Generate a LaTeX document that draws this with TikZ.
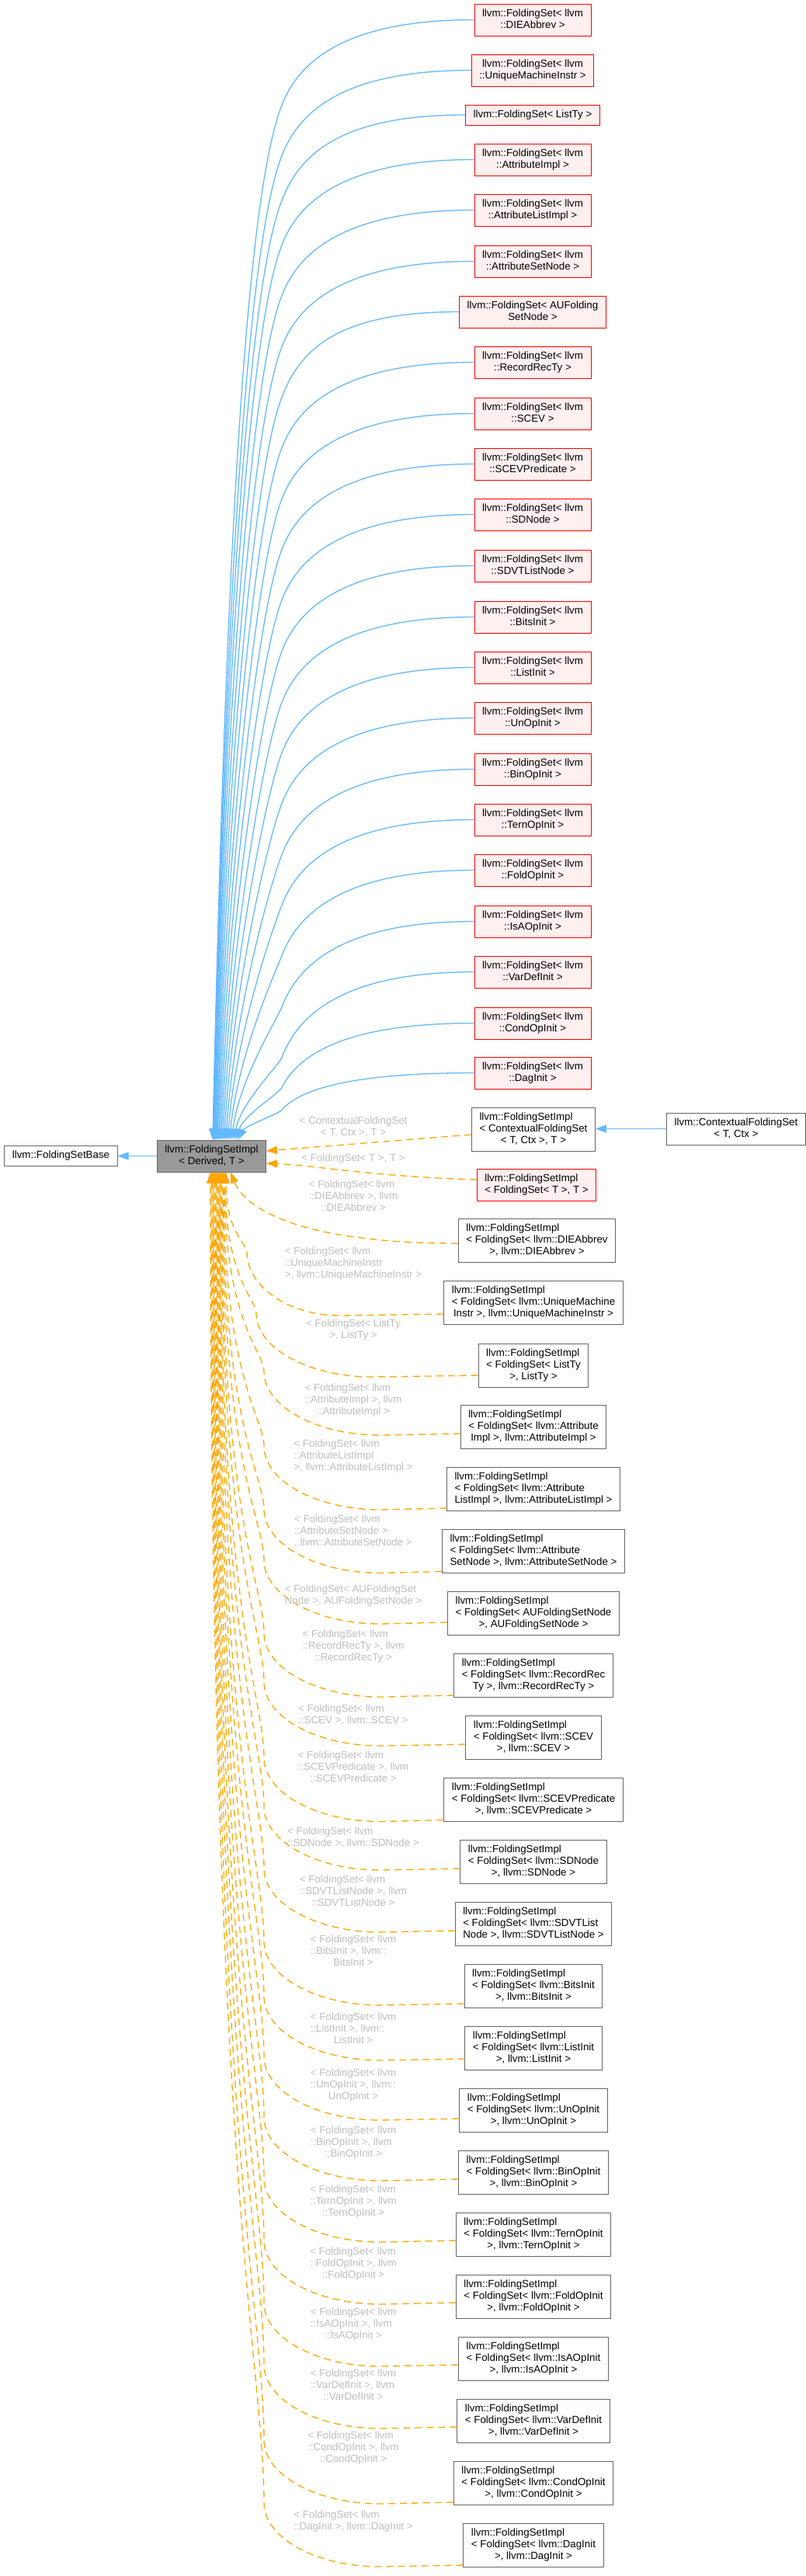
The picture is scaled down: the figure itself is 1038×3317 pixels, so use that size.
\documentclass[tikz,border=0pt]{standalone}
\usepackage{fontspec}
\setmainfont{Liberation Sans}
\usetikzlibrary{arrows.meta,calc}
\definecolor{edgeblue}{HTML}{63B8FF}
\definecolor{tmplorange}{HTML}{FFA500}
\definecolor{lblgray}{HTML}{BEBEBE}
\definecolor{boxpink}{HTML}{FFF0F0}
\definecolor{boxgray}{HTML}{666666}
\definecolor{basegray}{HTML}{999999}
\newcommand{\ctr}[1]{\begin{tabular}{@{}c@{}}#1\end{tabular}}
\newcommand{\lft}[2]{\begin{tabular}{@{}l@{}}#1\\\multicolumn{1}{@{}c@{}}{#2}\end{tabular}}
\tikzset{
  dox/.style={font=\fontsize{13.33}{15}\selectfont, inner xsep=10pt, inner ysep=5.5pt, line width=1pt},
  redbox/.style={dox, draw=red, fill=boxpink},
  implbox/.style={dox, draw=boxgray, fill=white},
  central/.style={dox, draw=boxgray, fill=basegray},
  inherit/.style={draw=edgeblue, line width=1.3pt, -{Triangle[length=14pt,width=10pt]}},
  tmpl/.style={draw=tmplorange, line width=1.3pt, dash pattern=on 9pt off 6pt, -{Triangle[length=14pt,width=10pt]}},
  elbl/.style={font=\fontsize{13.33}{15}\selectfont, text=lblgray, inner sep=0pt}
}
\begin{document}
\begin{tikzpicture}[x=1pt,y=-1pt]
\useasboundingbox (0,0) rectangle (1038,3317);
\node[central] (impl) at (272.5,1488.5) {\ctr{llvm::FoldingSetImpl\\< Derived, T >}};
\node[implbox] (fsbase) at (78.5,1488.5) {\ctr{llvm::FoldingSetBase}};
\draw[inherit] (impl.west) -- (fsbase.east);
% FoldingSet< ... > column
\foreach \n/\yc/\txt [count=\idx from 0] in {
  fsDIE/25.5/{llvm::FoldingSet< llvm\\::DIEAbbrev >},
  fsUMI/90.5/{llvm::FoldingSet< llvm\\::UniqueMachineInstr >},
  fsListTy/148/{llvm::FoldingSet< ListTy >},
  fsAttrImpl/205.5/{llvm::FoldingSet< llvm\\::AttributeImpl >},
  fsAttrList/270.5/{llvm::FoldingSet< llvm\\::AttributeListImpl >},
  fsAttrSet/336.5/{llvm::FoldingSet< llvm\\::AttributeSetNode >},
  fsAUFold/401.5/{llvm::FoldingSet< AUFolding\\SetNode >},
  fsRecord/466.5/{llvm::FoldingSet< llvm\\::RecordRecTy >},
  fsSCEV/532.5/{llvm::FoldingSet< llvm\\::SCEV >},
  fsSCEVPred/597.5/{llvm::FoldingSet< llvm\\::SCEVPredicate >},
  fsSDNode/662.5/{llvm::FoldingSet< llvm\\::SDNode >},
  fsSDVT/728.5/{llvm::FoldingSet< llvm\\::SDVTListNode >},
  fsBits/794.5/{llvm::FoldingSet< llvm\\::BitsInit >},
  fsListInit/859.5/{llvm::FoldingSet< llvm\\::ListInit >},
  fsUnOp/924.5/{llvm::FoldingSet< llvm\\::UnOpInit >},
  fsBinOp/990.5/{llvm::FoldingSet< llvm\\::BinOpInit >},
  fsTern/1055.5/{llvm::FoldingSet< llvm\\::TernOpInit >},
  fsFold/1120.5/{llvm::FoldingSet< llvm\\::FoldOpInit >},
  fsIsA/1186.5/{llvm::FoldingSet< llvm\\::IsAOpInit >},
  fsVarDef/1251.5/{llvm::FoldingSet< llvm\\::VarDefInit >},
  fsCond/1317.5/{llvm::FoldingSet< llvm\\::CondOpInit >},
  fsDag/1381.5/{llvm::FoldingSet< llvm\\::DagInit >}}{
  \node[redbox] (\n) at (686,\yc) {\ctr{\txt}};
  \pgfmathsetmacro\hb{min(110,0.55*(1468-\yc))}
  \pgfmathsetmacro\by{\yc+\hb}
  \pgfmathsetmacro\rest{1468-\by}
  \pgfmathsetmacro\xt{274+0.075*\idx*\idx}
  \draw[inherit] (\n.west) .. controls +(-150,0) and +(25,-0.6*\hb) .. (363,\by)
    .. controls +(-0.04*\rest,0.1*\rest) and +(0.15*363-0.15*\xt,-0.45*\rest) .. (impl.north -| \xt,0);
}
% contextual set
\node[implbox] (fsiCtx) at (687,1454) {\lft{llvm::FoldingSetImpl\\< ContextualFoldingSet}{< T, Ctx >, T >}};
\node[implbox] (cfs) at (948,1453.5) {\ctr{llvm::ContextualFoldingSet\\< T, Ctx >}};
\draw[inherit] (cfs.west) -- (fsiCtx.east |- cfs.west);
\draw[tmpl] (fsiCtx.west |- 0,1461) -- (impl.east |- 0,1482);
\node[redbox] (fsiT) at (691,1525.5) {\lft{llvm::FoldingSetImpl}{< FoldingSet< T >, T >}};
\draw[tmpl] (fsiT.west |- 0,1519) .. controls (480,1515) and (400,1500) .. (impl.east |- 0,1498);
\node[implbox] (fsiDIE) at (691.5,1597.5) {\lft{llvm::FoldingSetImpl\\< FoldingSet< llvm::DIEAbbrev}{>, llvm::DIEAbbrev >}};
\draw[tmpl] (fsiDIE.west |- 0,1601) .. controls (383,1601) and (315,1555) .. (impl.south -| 297,0);
% FoldingSetImpl< FoldingSet< ... > > column
\foreach \n/\yc/\off/\la/\lb [count=\idx] in {
  fsiUMI/1677.5/14.5/{llvm::FoldingSetImpl\\< FoldingSet< llvm::UniqueMachine}/{Instr >, llvm::UniqueMachineInstr >},
  fsiListTy/1758/13/{llvm::FoldingSetImpl\\< FoldingSet< ListTy}/{>, ListTy >},
  fsiAttrImpl/1837.5/8.5/{llvm::FoldingSetImpl\\< FoldingSet< llvm::Attribute}/{Impl >, llvm::AttributeImpl >},
  fsiAttrList/1917.5/24.5/{llvm::FoldingSetImpl\\< FoldingSet< llvm::Attribute}/{ListImpl >, llvm::AttributeListImpl >},
  fsiAttrSet/1997.5/26/{llvm::FoldingSetImpl\\< FoldingSet< llvm::Attribute}/{SetNode >, llvm::AttributeSetNode >},
  fsiAUFold/2077.5/11.5/{llvm::FoldingSetImpl\\< FoldingSet< AUFoldingSetNode}/{>, AUFoldingSetNode >},
  fsiRecord/2157.5/25.5/{llvm::FoldingSetImpl\\< FoldingSet< llvm::RecordRec}/{Ty >, llvm::RecordRecTy >},
  fsiSCEV/2237.5/8.5/{llvm::FoldingSetImpl\\< FoldingSet< llvm::SCEV}/{>, llvm::SCEV >},
  fsiSCEVPred/2317.5/26/{llvm::FoldingSetImpl\\< FoldingSet< llvm::SCEVPredicate}/{>, llvm::SCEVPredicate >},
  fsiSDNode/2397.5/8.5/{llvm::FoldingSetImpl\\< FoldingSet< llvm::SDNode}/{>, llvm::SDNode >},
  fsiSDVT/2477.5/8.5/{llvm::FoldingSetImpl\\< FoldingSet< llvm::SDVTList}/{Node >, llvm::SDVTListNode >},
  fsiBits/2557.5/22.5/{llvm::FoldingSetImpl\\< FoldingSet< llvm::BitsInit}/{>, llvm::BitsInit >},
  fsiListInit/2637.5/13.5/{llvm::FoldingSetImpl\\< FoldingSet< llvm::ListInit}/{>, llvm::ListInit >},
  fsiUnOp/2717.5/10.5/{llvm::FoldingSetImpl\\< FoldingSet< llvm::UnOpInit}/{>, llvm::UnOpInit >},
  fsiBinOp/2797.5/8.5/{llvm::FoldingSetImpl\\< FoldingSet< llvm::BinOpInit}/{>, llvm::BinOpInit >},
  fsiTern/2877.5/7.5/{llvm::FoldingSetImpl\\< FoldingSet< llvm::TernOpInit}/{>, llvm::TernOpInit >},
  fsiFold/2957.5/7.5/{llvm::FoldingSetImpl\\< FoldingSet< llvm::FoldOpInit}/{>, llvm::FoldOpInit >},
  fsiIsA/3037.5/7.5/{llvm::FoldingSetImpl\\< FoldingSet< llvm::IsAOpInit}/{>, llvm::IsAOpInit >},
  fsiVarDef/3117.5/7.5/{llvm::FoldingSetImpl\\< FoldingSet< llvm::VarDefInit}/{>, llvm::VarDefInit >},
  fsiCond/3197.5/24.5/{llvm::FoldingSetImpl\\< FoldingSet< llvm::CondOpInit}/{>, llvm::CondOpInit >},
  fsiDag/3277.5/25.5/{llvm::FoldingSetImpl\\< FoldingSet< llvm::DagInit}/{>, llvm::DagInit >}}{
  \node[implbox] (\n) at (687,\yc) {\lft{\la}{\lb}};
  \pgfmathsetmacro\ye{\yc+\off}
  \pgfmathsetmacro\xs{292-\idx}
  \pgfmathsetmacro\xq{min(340,306+12*\idx)}
  \pgfmathsetmacro\wd{min(150,90+30*\idx)}
  \pgfmathsetmacro\lx{\xq+\wd}
  \pgfmathsetmacro\qy{\ye-80}
  \pgfmathsetmacro\vv{\qy-1509}
  \draw[tmpl] (\n.west |- 0,\ye) -- (\lx,\ye+2)
    .. controls (\lx-0.55*\wd,\ye+2) and (\xq,\qy+45) .. (\xq,\qy)
    .. controls (\xq,\qy-0.1*\vv) and (\xs,1509+0.75*\vv) .. (impl.south -| \xs,0);
}
% template arguments
\node[elbl] (lblCtx) at (455,1451.5) {\lft{< ContextualFoldingSet}{< T, Ctx >, T >}};
\node[elbl] (lblT) at (455,1492) {\ctr{< FoldingSet< T >, T >}};
\foreach \n/\y/\la/\lb in {
  lblDIE/1541/{< FoldingSet< llvm\\::DIEAbbrev >, llvm}/{::DIEAbbrev >},
  lblUMI/1627/{< FoldingSet< llvm\\::UniqueMachineInstr}/{>, llvm::UniqueMachineInstr >},
  lblListTy/1712.5/{< FoldingSet< ListTy}/{>, ListTy >},
  lblAttrImpl/1803/{< FoldingSet< llvm\\::AttributeImpl >, llvm}/{::AttributeImpl >},
  lblAttrList/1875/{< FoldingSet< llvm\\::AttributeListImpl}/{>, llvm::AttributeListImpl >},
  lblAttrSet/1972/{< FoldingSet< llvm\\::AttributeSetNode >}/{, llvm::AttributeSetNode >},
  lblAUFold/2054.5/{< FoldingSet< AUFoldingSet}/{Node >, AUFoldingSetNode >},
  lblRecord/2120/{< FoldingSet< llvm\\::RecordRecTy >, llvm}/{::RecordRecTy >},
  lblSCEV/2208.5/{< FoldingSet< llvm}/{::SCEV >, llvm::SCEV >},
  lblSCEVPred/2276/{< FoldingSet< llvm\\::SCEVPredicate >, llvm}/{::SCEVPredicate >},
  lblSDNode/2366.5/{< FoldingSet< llvm}/{::SDNode >, llvm::SDNode >},
  lblSDVT/2436/{< FoldingSet< llvm\\::SDVTListNode >, llvm}/{::SDVTListNode >},
  lblBits/2513/{< FoldingSet< llvm\\::BitsInit >, llvm::}/{BitsInit >},
  lblListInit/2613/{< FoldingSet< llvm\\::ListInit >, llvm::}/{ListInit >},
  lblUnOp/2685/{< FoldingSet< llvm\\::UnOpInit >, llvm::}/{UnOpInit >},
  lblBinOp/2759/{< FoldingSet< llvm\\::BinOpInit >, llvm}/{::BinOpInit >},
  lblTern/2835/{< FoldingSet< llvm\\::TernOpInit >, llvm}/{::TernOpInit >},
  lblFold/2915/{< FoldingSet< llvm\\::FoldOpInit >, llvm}/{::FoldOpInit >},
  lblIsA/2993/{< FoldingSet< llvm\\::IsAOpInit >, llvm}/{::IsAOpInit >},
  lblVarDef/3072/{< FoldingSet< llvm\\::VarDefInit >, llvm}/{::VarDefInit >},
  lblCond/3152/{< FoldingSet< llvm\\::CondOpInit >, llvm}/{::CondOpInit >},
  lblDag/3246.5/{< FoldingSet< llvm}/{::DagInit >, llvm::DagInit >}}
  \node[elbl] (\n) at (455,\y) {\lft{\la}{\lb}};
\end{tikzpicture}
\end{document}
